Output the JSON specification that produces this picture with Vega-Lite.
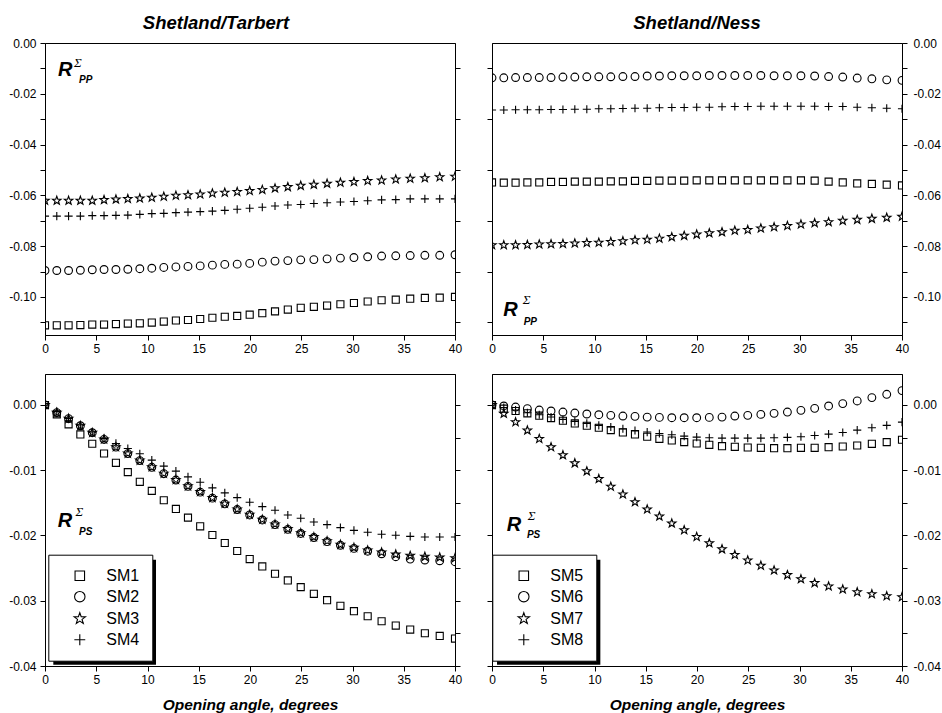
{
  "$schema": "https://vega.github.io/schema/vega-lite/v6.json",
  "background": "white",
  "padding": {"left": 8, "top": 13, "right": 2, "bottom": 4},
  "config": {
    "font": "Liberation Sans",
    "view": {"stroke": "black", "strokeWidth": 1},
    "locale": {"number": {"decimal": ".", "thousands": ",", "grouping": [3], "currency": ["$", ""], "minus": "-"}},
    "axis": {
      "grid": false, "domainColor": "black", "domainWidth": 1, "tickColor": "black", "tickWidth": 1,
      "tickSize": 5, "labelPadding": 3, "labelColor": "black", "labelFont": "Liberation Sans", "labelFontSize": 12,
      "labelFlush": false, "labelOverlap": false, "titleFont": "Liberation Sans", "titleFontSize": 15.5,
      "titleFontWeight": "bold", "titleFontStyle": "italic", "titleColor": "black", "titlePadding": 12
    },
    "axisLeft": {"labelPadding": 4},
    "axisRight": {"labelPadding": 6},
    "title": {"font": "Liberation Sans", "fontSize": 18.5, "fontWeight": "bold", "fontStyle": "italic", "color": "black", "anchor": "middle", "baseline": "alphabetic", "offset": 5},
    "legend": {
      "padding": 13, "strokeColor": "black", "fillColor": "white", "symbolSize": 90,
      "symbolStrokeWidth": 1.1, "symbolStrokeColor": "black", "symbolOffset": 10.5, "labelOffset": 18.5, "rowPadding": 5,
      "labelFont": "Liberation Sans", "labelFontSize": 16, "labelColor": "black"
    }
  },
  "datasets": {
    "tarbert_pp": [
      {"angle": 0, "SM1": -0.1112, "SM2": -0.0896, "SM3": -0.0621, "SM4": -0.0682},
      {"angle": 1.15, "SM1": -0.1112, "SM2": -0.0896, "SM3": -0.0621, "SM4": -0.0682},
      {"angle": 2.30, "SM1": -0.1112, "SM2": -0.0896, "SM3": -0.0621, "SM4": -0.0682},
      {"angle": 3.45, "SM1": -0.1111, "SM2": -0.0895, "SM3": -0.0621, "SM4": -0.0682},
      {"angle": 4.61, "SM1": -0.1109, "SM2": -0.0893, "SM3": -0.0621, "SM4": -0.0680},
      {"angle": 5.76, "SM1": -0.1109, "SM2": -0.0892, "SM3": -0.0618, "SM4": -0.0680},
      {"angle": 6.92, "SM1": -0.1107, "SM2": -0.0892, "SM3": -0.0616, "SM4": -0.0679},
      {"angle": 8.08, "SM1": -0.1105, "SM2": -0.0891, "SM3": -0.0614, "SM4": -0.0678},
      {"angle": 9.25, "SM1": -0.1104, "SM2": -0.0889, "SM3": -0.0612, "SM4": -0.0675},
      {"angle": 10.42, "SM1": -0.1101, "SM2": -0.0887, "SM3": -0.0609, "SM4": -0.0672},
      {"angle": 11.59, "SM1": -0.1097, "SM2": -0.0884, "SM3": -0.0605, "SM4": -0.0671},
      {"angle": 12.77, "SM1": -0.1093, "SM2": -0.0882, "SM3": -0.0601, "SM4": -0.0668},
      {"angle": 13.95, "SM1": -0.1091, "SM2": -0.0880, "SM3": -0.0599, "SM4": -0.0666},
      {"angle": 15.14, "SM1": -0.1087, "SM2": -0.0878, "SM3": -0.0596, "SM4": -0.0664},
      {"angle": 16.33, "SM1": -0.1082, "SM2": -0.0875, "SM3": -0.0592, "SM4": -0.0662},
      {"angle": 17.54, "SM1": -0.1078, "SM2": -0.0872, "SM3": -0.0589, "SM4": -0.0659},
      {"angle": 18.75, "SM1": -0.1075, "SM2": -0.0871, "SM3": -0.0586, "SM4": -0.0655},
      {"angle": 19.97, "SM1": -0.1070, "SM2": -0.0868, "SM3": -0.0582, "SM4": -0.0651},
      {"angle": 21.20, "SM1": -0.1064, "SM2": -0.0863, "SM3": -0.0578, "SM4": -0.0647},
      {"angle": 22.44, "SM1": -0.1057, "SM2": -0.0859, "SM3": -0.0572, "SM4": -0.0642},
      {"angle": 23.69, "SM1": -0.1050, "SM2": -0.0857, "SM3": -0.0567, "SM4": -0.0638},
      {"angle": 24.95, "SM1": -0.1043, "SM2": -0.0854, "SM3": -0.0562, "SM4": -0.0636},
      {"angle": 26.23, "SM1": -0.1039, "SM2": -0.0853, "SM3": -0.0558, "SM4": -0.0632},
      {"angle": 27.52, "SM1": -0.1034, "SM2": -0.0850, "SM3": -0.0554, "SM4": -0.0629},
      {"angle": 28.82, "SM1": -0.1029, "SM2": -0.0847, "SM3": -0.0550, "SM4": -0.0626},
      {"angle": 30.14, "SM1": -0.1024, "SM2": -0.0845, "SM3": -0.0547, "SM4": -0.0624},
      {"angle": 31.48, "SM1": -0.1018, "SM2": -0.0842, "SM3": -0.0543, "SM4": -0.0621},
      {"angle": 32.84, "SM1": -0.1013, "SM2": -0.0839, "SM3": -0.0541, "SM4": -0.0618},
      {"angle": 34.22, "SM1": -0.1011, "SM2": -0.0838, "SM3": -0.0537, "SM4": -0.0617},
      {"angle": 35.63, "SM1": -0.1007, "SM2": -0.0837, "SM3": -0.0534, "SM4": -0.0614},
      {"angle": 37.06, "SM1": -0.1004, "SM2": -0.0836, "SM3": -0.0532, "SM4": -0.0614},
      {"angle": 38.51, "SM1": -0.1003, "SM2": -0.0836, "SM3": -0.0528, "SM4": -0.0614},
      {"angle": 40, "SM1": -0.1000, "SM2": -0.0834, "SM3": -0.0526, "SM4": -0.0614}
    ],
    "ness_pp": [
      {"angle": 0, "SM5": -0.0549, "SM6": -0.0137, "SM7": -0.0796, "SM8": -0.0264},
      {"angle": 1.15, "SM5": -0.0550, "SM6": -0.0137, "SM7": -0.0796, "SM8": -0.0264},
      {"angle": 2.30, "SM5": -0.0550, "SM6": -0.0136, "SM7": -0.0796, "SM8": -0.0263},
      {"angle": 3.45, "SM5": -0.0549, "SM6": -0.0136, "SM7": -0.0795, "SM8": -0.0263},
      {"angle": 4.61, "SM5": -0.0549, "SM6": -0.0136, "SM7": -0.0793, "SM8": -0.0263},
      {"angle": 5.76, "SM5": -0.0547, "SM6": -0.0136, "SM7": -0.0792, "SM8": -0.0262},
      {"angle": 6.92, "SM5": -0.0547, "SM6": -0.0134, "SM7": -0.0791, "SM8": -0.0262},
      {"angle": 8.08, "SM5": -0.0546, "SM6": -0.0134, "SM7": -0.0789, "SM8": -0.0261},
      {"angle": 9.25, "SM5": -0.0546, "SM6": -0.0133, "SM7": -0.0787, "SM8": -0.0261},
      {"angle": 10.42, "SM5": -0.0546, "SM6": -0.0133, "SM7": -0.0786, "SM8": -0.0259},
      {"angle": 11.59, "SM5": -0.0545, "SM6": -0.0133, "SM7": -0.0783, "SM8": -0.0259},
      {"angle": 12.77, "SM5": -0.0545, "SM6": -0.0132, "SM7": -0.0780, "SM8": -0.0258},
      {"angle": 13.95, "SM5": -0.0543, "SM6": -0.0132, "SM7": -0.0776, "SM8": -0.0257},
      {"angle": 15.14, "SM5": -0.0543, "SM6": -0.0130, "SM7": -0.0774, "SM8": -0.0257},
      {"angle": 16.33, "SM5": -0.0542, "SM6": -0.0130, "SM7": -0.0770, "SM8": -0.0255},
      {"angle": 17.54, "SM5": -0.0542, "SM6": -0.0129, "SM7": -0.0764, "SM8": -0.0254},
      {"angle": 18.75, "SM5": -0.0542, "SM6": -0.0129, "SM7": -0.0759, "SM8": -0.0254},
      {"angle": 19.97, "SM5": -0.0541, "SM6": -0.0129, "SM7": -0.0754, "SM8": -0.0253},
      {"angle": 21.20, "SM5": -0.0541, "SM6": -0.0128, "SM7": -0.0749, "SM8": -0.0253},
      {"angle": 22.44, "SM5": -0.0541, "SM6": -0.0128, "SM7": -0.0745, "SM8": -0.0251},
      {"angle": 23.69, "SM5": -0.0541, "SM6": -0.0128, "SM7": -0.0739, "SM8": -0.0250},
      {"angle": 24.95, "SM5": -0.0541, "SM6": -0.0128, "SM7": -0.0736, "SM8": -0.0250},
      {"angle": 26.23, "SM5": -0.0541, "SM6": -0.0128, "SM7": -0.0730, "SM8": -0.0249},
      {"angle": 27.52, "SM5": -0.0541, "SM6": -0.0129, "SM7": -0.0725, "SM8": -0.0249},
      {"angle": 28.82, "SM5": -0.0541, "SM6": -0.0129, "SM7": -0.0720, "SM8": -0.0249},
      {"angle": 30.14, "SM5": -0.0541, "SM6": -0.0129, "SM7": -0.0714, "SM8": -0.0249},
      {"angle": 31.48, "SM5": -0.0542, "SM6": -0.0130, "SM7": -0.0709, "SM8": -0.0249},
      {"angle": 32.84, "SM5": -0.0546, "SM6": -0.0132, "SM7": -0.0705, "SM8": -0.0250},
      {"angle": 34.22, "SM5": -0.0549, "SM6": -0.0134, "SM7": -0.0700, "SM8": -0.0250},
      {"angle": 35.63, "SM5": -0.0553, "SM6": -0.0138, "SM7": -0.0696, "SM8": -0.0253},
      {"angle": 37.06, "SM5": -0.0555, "SM6": -0.0141, "SM7": -0.0692, "SM8": -0.0255},
      {"angle": 38.51, "SM5": -0.0558, "SM6": -0.0145, "SM7": -0.0688, "SM8": -0.0257},
      {"angle": 40, "SM5": -0.0561, "SM6": -0.0147, "SM7": -0.0684, "SM8": -0.0259}
    ],
    "tarbert_ps": [
      {"angle": 0, "SM1": 0, "SM2": 0, "SM3": 0, "SM4": 0},
      {"angle": 1.15, "SM1": -0.00143, "SM2": -0.00118, "SM3": -0.00118, "SM4": -0.00102},
      {"angle": 2.30, "SM1": -0.00297, "SM2": -0.0021, "SM3": -0.0021, "SM4": -0.00205},
      {"angle": 3.45, "SM1": -0.00451, "SM2": -0.00318, "SM3": -0.00318, "SM4": -0.00307},
      {"angle": 4.61, "SM1": -0.00594, "SM2": -0.00425, "SM3": -0.00425, "SM4": -0.00415},
      {"angle": 5.76, "SM1": -0.00743, "SM2": -0.00528, "SM3": -0.00528, "SM4": -0.00512},
      {"angle": 6.92, "SM1": -0.00886, "SM2": -0.00645, "SM3": -0.00645, "SM4": -0.00589},
      {"angle": 8.08, "SM1": -0.01029, "SM2": -0.00745, "SM3": -0.00743, "SM4": -0.00666},
      {"angle": 9.25, "SM1": -0.01178, "SM2": -0.00852, "SM3": -0.0085, "SM4": -0.00748},
      {"angle": 10.42, "SM1": -0.01316, "SM2": -0.00955, "SM3": -0.00953, "SM4": -0.00845},
      {"angle": 11.59, "SM1": -0.0146, "SM2": -0.01053, "SM3": -0.0105, "SM4": -0.00937},
      {"angle": 12.77, "SM1": -0.01593, "SM2": -0.0115, "SM3": -0.01147, "SM4": -0.01014},
      {"angle": 13.95, "SM1": -0.01726, "SM2": -0.01248, "SM3": -0.01245, "SM4": -0.01101},
      {"angle": 15.14, "SM1": -0.01859, "SM2": -0.01336, "SM3": -0.01332, "SM4": -0.01183},
      {"angle": 16.33, "SM1": -0.01992, "SM2": -0.01428, "SM3": -0.01424, "SM4": -0.0127},
      {"angle": 17.54, "SM1": -0.02115, "SM2": -0.01515, "SM3": -0.01511, "SM4": -0.01347},
      {"angle": 18.75, "SM1": -0.02238, "SM2": -0.01602, "SM3": -0.01598, "SM4": -0.01419},
      {"angle": 19.97, "SM1": -0.02361, "SM2": -0.01685, "SM3": -0.0168, "SM4": -0.0149},
      {"angle": 21.20, "SM1": -0.02474, "SM2": -0.01762, "SM3": -0.01757, "SM4": -0.01557},
      {"angle": 22.44, "SM1": -0.02586, "SM2": -0.01834, "SM3": -0.01828, "SM4": -0.01613},
      {"angle": 23.69, "SM1": -0.02689, "SM2": -0.01906, "SM3": -0.019, "SM4": -0.01685},
      {"angle": 24.95, "SM1": -0.02791, "SM2": -0.01969, "SM3": -0.01962, "SM4": -0.01736},
      {"angle": 26.23, "SM1": -0.02894, "SM2": -0.02031, "SM3": -0.02023, "SM4": -0.01793},
      {"angle": 27.52, "SM1": -0.02991, "SM2": -0.02094, "SM3": -0.02085, "SM4": -0.01834},
      {"angle": 28.82, "SM1": -0.03078, "SM2": -0.0215, "SM3": -0.02141, "SM4": -0.0188},
      {"angle": 30.14, "SM1": -0.0316, "SM2": -0.02198, "SM3": -0.02187, "SM4": -0.01921},
      {"angle": 31.48, "SM1": -0.03237, "SM2": -0.02241, "SM3": -0.02228, "SM4": -0.01951},
      {"angle": 32.84, "SM1": -0.03314, "SM2": -0.0228, "SM3": -0.02259, "SM4": -0.01982},
      {"angle": 34.22, "SM1": -0.0338, "SM2": -0.02325, "SM3": -0.0229, "SM4": -0.01997},
      {"angle": 35.63, "SM1": -0.03442, "SM2": -0.02361, "SM3": -0.0231, "SM4": -0.02013},
      {"angle": 37.06, "SM1": -0.03498, "SM2": -0.02376, "SM3": -0.02325, "SM4": -0.02023},
      {"angle": 38.51, "SM1": -0.03539, "SM2": -0.02387, "SM3": -0.02336, "SM4": -0.02023},
      {"angle": 40, "SM1": -0.0358, "SM2": -0.02402, "SM3": -0.02346, "SM4": -0.02023}
    ],
    "ness_ps": [
      {"angle": 0, "SM5": 0, "SM6": 0, "SM7": 0, "SM8": 0},
      {"angle": 1.15, "SM5": -0.00056, "SM6": -0.00015, "SM7": -0.00133, "SM8": -0.00041},
      {"angle": 2.30, "SM5": -0.00092, "SM6": -0.00031, "SM7": -0.00262, "SM8": -0.00077},
      {"angle": 3.45, "SM5": -0.00128, "SM6": -0.00056, "SM7": -0.0039, "SM8": -0.00118},
      {"angle": 4.61, "SM5": -0.00164, "SM6": -0.00077, "SM7": -0.00518, "SM8": -0.00149},
      {"angle": 5.76, "SM5": -0.002, "SM6": -0.00092, "SM7": -0.00646, "SM8": -0.00185},
      {"angle": 6.92, "SM5": -0.00241, "SM6": -0.00108, "SM7": -0.00769, "SM8": -0.00221},
      {"angle": 8.08, "SM5": -0.00282, "SM6": -0.00123, "SM7": -0.00892, "SM8": -0.00251},
      {"angle": 9.25, "SM5": -0.00318, "SM6": -0.00138, "SM7": -0.01015, "SM8": -0.00282},
      {"angle": 10.42, "SM5": -0.00349, "SM6": -0.00149, "SM7": -0.01133, "SM8": -0.00313},
      {"angle": 11.59, "SM5": -0.00385, "SM6": -0.00159, "SM7": -0.01251, "SM8": -0.00338},
      {"angle": 12.77, "SM5": -0.00421, "SM6": -0.00169, "SM7": -0.01369, "SM8": -0.00364},
      {"angle": 13.95, "SM5": -0.00451, "SM6": -0.00174, "SM7": -0.01487, "SM8": -0.0039},
      {"angle": 15.14, "SM5": -0.00487, "SM6": -0.00185, "SM7": -0.016, "SM8": -0.00415},
      {"angle": 16.33, "SM5": -0.00518, "SM6": -0.0019, "SM7": -0.01708, "SM8": -0.00436},
      {"angle": 17.54, "SM5": -0.00544, "SM6": -0.00195, "SM7": -0.01815, "SM8": -0.00456},
      {"angle": 18.75, "SM5": -0.00569, "SM6": -0.00195, "SM7": -0.01918, "SM8": -0.00477},
      {"angle": 19.97, "SM5": -0.0059, "SM6": -0.00195, "SM7": -0.0202, "SM8": -0.00492},
      {"angle": 21.20, "SM5": -0.0061, "SM6": -0.0019, "SM7": -0.02118, "SM8": -0.00503},
      {"angle": 22.44, "SM5": -0.00631, "SM6": -0.00185, "SM7": -0.0221, "SM8": -0.00508},
      {"angle": 23.69, "SM5": -0.00641, "SM6": -0.00169, "SM7": -0.02297, "SM8": -0.00508},
      {"angle": 24.95, "SM5": -0.00651, "SM6": -0.00159, "SM7": -0.0238, "SM8": -0.00508},
      {"angle": 26.23, "SM5": -0.00656, "SM6": -0.00144, "SM7": -0.02462, "SM8": -0.00508},
      {"angle": 27.52, "SM5": -0.00662, "SM6": -0.00128, "SM7": -0.02533, "SM8": -0.00503},
      {"angle": 28.82, "SM5": -0.00662, "SM6": -0.00108, "SM7": -0.02605, "SM8": -0.00497},
      {"angle": 30.14, "SM5": -0.00656, "SM6": -0.00082, "SM7": -0.02667, "SM8": -0.00487},
      {"angle": 31.48, "SM5": -0.00656, "SM6": -0.00051, "SM7": -0.02728, "SM8": -0.00467},
      {"angle": 32.84, "SM5": -0.00646, "SM6": -0.00015, "SM7": -0.02779, "SM8": -0.00446},
      {"angle": 34.22, "SM5": -0.00636, "SM6": 0.00021, "SM7": -0.02826, "SM8": -0.00421},
      {"angle": 35.63, "SM5": -0.00621, "SM6": 0.00062, "SM7": -0.02867, "SM8": -0.00385},
      {"angle": 37.06, "SM5": -0.00595, "SM6": 0.00113, "SM7": -0.02897, "SM8": -0.00349},
      {"angle": 38.51, "SM5": -0.00569, "SM6": 0.00164, "SM7": -0.02928, "SM8": -0.00313},
      {"angle": 40, "SM5": -0.00533, "SM6": 0.00221, "SM7": -0.02944, "SM8": -0.00262}
    ]
  },
  "columns": 2,
  "spacing": {"row": 39, "column": 37},
  "bounds": "flush",
  "resolve": {"scale": {"shape": "independent"}, "legend": {"shape": "independent"}},
  "concat": [
    {
      "width": 410, "height": 292,
      "title": {"text": "Shetland/Tarbert", "dx": -34},
      "layer": [
        {
          "layer": [
            {
              "data": {"name": "tarbert_pp"},
              "transform": [{"fold": ["SM1", "SM2", "SM3", "SM4"], "as": ["model", "R"]}],
              "mark": {"type": "point", "filled": false, "color": "black", "strokeWidth": 1.1, "size": 50, "opacity": 1, "clip": true},
              "encoding": {
                "x": {"field": "angle", "type": "quantitative", "scale": {"domain": [0, 40], "nice": false, "zero": false},
                      "axis": {"values": [0, 2.5, 5, 7.5, 10, 12.5, 15, 17.5, 20, 22.5, 25, 27.5, 30, 32.5, 35, 37.5, 40], "labelExpr": "datum.value % 5 == 0 ? datum.label : ''", "title": null}},
                "y": {"field": "R", "type": "quantitative", "scale": {"domain": [-0.115, 0], "nice": false, "zero": false},
                      "axis": {"orient": "right", "values": [0, -0.01, -0.02, -0.03, -0.04, -0.05, -0.06, -0.07, -0.08, -0.09, -0.1, -0.11], "labels": false, "title": null}},
                "shape": {"field": "model", "type": "nominal", "legend": null,
                          "scale": {"domain": ["SM1", "SM2", "SM3", "SM4"], "range": ["square", "M1.1,0A1.1,1.1,0,1,1,-1.1,0A1.1,1.1,0,1,1,1.1,0Z", "M0,-1.25L0.294,-0.405L1.189,-0.386L0.476,0.155L0.735,1.011L0,0.5L-0.735,1.011L-0.476,0.155L-1.189,-0.386L-0.294,-0.405Z", "M-1.15,0H1.15M0,-1.15V1.15"]}}
              }
            },
            {"data": {"values": [{}]}, "mark": {"type": "text", "text": "R", "font": "Liberation Sans", "fontSize": 20, "fontWeight": "bold", "fontStyle": "italic", "align": "left", "baseline": "alphabetic", "color": "black"},
             "encoding": {"x": {"datum": 1.27}, "y": {"datum": -0.0130}}},
            {"data": {"values": [{}]}, "mark": {"type": "text", "text": "Σ", "font": "Liberation Serif", "fontSize": 13, "fontStyle": "italic", "align": "left", "baseline": "alphabetic", "color": "black"},
             "encoding": {"x": {"datum": 2.83}, "y": {"datum": -0.0093}}},
            {"data": {"values": [{}]}, "mark": {"type": "text", "text": "PP", "font": "Liberation Sans", "fontSize": 10, "fontWeight": "bold", "fontStyle": "italic", "align": "left", "baseline": "alphabetic", "color": "black"},
             "encoding": {"x": {"datum": 3.32}, "y": {"datum": -0.0159}}}
          ]
        },
        {
          "data": {"name": "tarbert_pp"},
          "transform": [{"fold": ["SM1", "SM2", "SM3", "SM4"], "as": ["model", "R"]}],
          "mark": {"type": "point", "opacity": 0},
          "encoding": {"y": {"field": "R", "type": "quantitative", "axis": {"orient": "left", "values": [0, -0.01, -0.02, -0.03, -0.04, -0.05, -0.06, -0.07, -0.08, -0.09, -0.1, -0.11], "format": ".2f", "labelExpr": "round(abs(datum.value) * 100) % 2 == 0 ? datum.label : ''", "title": null}}}
        }
      ],
      "resolve": {"axis": {"y": "independent"}}
    },
    {
      "width": 410, "height": 292,
      "title": {"text": "Shetland/Ness"},
      "layer": [
        {
          "layer": [
            {
              "data": {"name": "ness_pp"},
              "transform": [{"fold": ["SM5", "SM6", "SM7", "SM8"], "as": ["model", "R"]}],
              "mark": {"type": "point", "filled": false, "color": "black", "strokeWidth": 1.1, "size": 50, "opacity": 1, "clip": true},
              "encoding": {
                "x": {"field": "angle", "type": "quantitative", "scale": {"domain": [0, 40], "nice": false, "zero": false},
                      "axis": {"values": [0, 2.5, 5, 7.5, 10, 12.5, 15, 17.5, 20, 22.5, 25, 27.5, 30, 32.5, 35, 37.5, 40], "labelExpr": "datum.value % 5 == 0 ? datum.label : ''", "title": null}},
                "y": {"field": "R", "type": "quantitative", "scale": {"domain": [-0.115, 0], "nice": false, "zero": false},
                      "axis": {"orient": "left", "values": [0, -0.01, -0.02, -0.03, -0.04, -0.05, -0.06, -0.07, -0.08, -0.09, -0.1, -0.11], "labels": false, "title": null}},
                "shape": {"field": "model", "type": "nominal", "legend": null,
                          "scale": {"domain": ["SM5", "SM6", "SM7", "SM8"], "range": ["square", "M1.1,0A1.1,1.1,0,1,1,-1.1,0A1.1,1.1,0,1,1,1.1,0Z", "M0,-1.25L0.294,-0.405L1.189,-0.386L0.476,0.155L0.735,1.011L0,0.5L-0.735,1.011L-0.476,0.155L-1.189,-0.386L-0.294,-0.405Z", "M-1.15,0H1.15M0,-1.15V1.15"]}}
              }
            },
            {"data": {"values": [{}]}, "mark": {"type": "text", "text": "R", "font": "Liberation Sans", "fontSize": 20, "fontWeight": "bold", "fontStyle": "italic", "align": "left", "baseline": "alphabetic", "color": "black"},
             "encoding": {"x": {"datum": 1.10}, "y": {"datum": -0.1075}}},
            {"data": {"values": [{}]}, "mark": {"type": "text", "text": "Σ", "font": "Liberation Serif", "fontSize": 13, "fontStyle": "italic", "align": "left", "baseline": "alphabetic", "color": "black"},
             "encoding": {"x": {"datum": 3.0}, "y": {"datum": -0.1028}}},
            {"data": {"values": [{}]}, "mark": {"type": "text", "text": "PP", "font": "Liberation Sans", "fontSize": 10, "fontWeight": "bold", "fontStyle": "italic", "align": "left", "baseline": "alphabetic", "color": "black"},
             "encoding": {"x": {"datum": 3.09}, "y": {"datum": -0.1111}}}
          ]
        },
        {
          "data": {"name": "ness_pp"},
          "transform": [{"fold": ["SM5", "SM6", "SM7", "SM8"], "as": ["model", "R"]}],
          "mark": {"type": "point", "opacity": 0},
          "encoding": {"y": {"field": "R", "type": "quantitative", "axis": {"orient": "right", "values": [0, -0.01, -0.02, -0.03, -0.04, -0.05, -0.06, -0.07, -0.08, -0.09, -0.1, -0.11], "format": ".2f", "labelExpr": "round(abs(datum.value) * 100) % 2 == 0 ? datum.label : ''", "title": null}}}
        }
      ],
      "resolve": {"axis": {"y": "independent"}}
    },
    {
      "width": 410, "height": 292,
      "layer": [
        {
          "layer": [
            {"data": {"values": [{}]}, "mark": {"type": "rect", "color": "black"},
             "encoding": {"x": {"datum": 0.81}, "x2": {"datum": 10.83}, "y": {"datum": -0.02371}, "y2": {"datum": -0.0398}}},
            {
              "data": {"name": "tarbert_ps"},
              "transform": [{"fold": ["SM1", "SM2", "SM3", "SM4"], "as": ["model", "R"]}],
              "mark": {"type": "point", "filled": false, "color": "black", "strokeWidth": 1.1, "size": 50, "opacity": 1, "clip": true},
              "encoding": {
                "x": {"field": "angle", "type": "quantitative", "scale": {"domain": [0, 40], "nice": false, "zero": false},
                      "axis": {"values": [0, 2.5, 5, 7.5, 10, 12.5, 15, 17.5, 20, 22.5, 25, 27.5, 30, 32.5, 35, 37.5, 40], "labelExpr": "datum.value % 5 == 0 ? datum.label : ''", "title": "Opening angle, degrees"}},
                "y": {"field": "R", "type": "quantitative", "scale": {"domain": [-0.04, 0.00475], "nice": false, "zero": false},
                      "axis": {"orient": "left", "values": [0, -0.005, -0.01, -0.015, -0.02, -0.025, -0.03, -0.035, -0.04], "format": ".2f", "labelExpr": "round(abs(datum.value) * 1000) % 10 == 0 ? datum.label : ''", "title": null}},
                "shape": {"field": "model", "type": "nominal",
                          "legend": {"orient": "none", "legendX": 3.3, "legendY": 180.7, "title": null, "zindex": 1},
                          "scale": {"domain": ["SM1", "SM2", "SM3", "SM4"], "range": ["square", "M1.1,0A1.1,1.1,0,1,1,-1.1,0A1.1,1.1,0,1,1,1.1,0Z", "M0,-1.25L0.294,-0.405L1.189,-0.386L0.476,0.155L0.735,1.011L0,0.5L-0.735,1.011L-0.476,0.155L-1.189,-0.386L-0.294,-0.405Z", "M-1.15,0H1.15M0,-1.15V1.15"]}}
              }
            },
            {"data": {"values": [{}]}, "mark": {"type": "text", "text": "R", "font": "Liberation Sans", "fontSize": 20, "fontWeight": "bold", "fontStyle": "italic", "align": "left", "baseline": "alphabetic", "color": "black"},
             "encoding": {"x": {"datum": 1.24}, "y": {"datum": -0.0187}}},
            {"data": {"values": [{}]}, "mark": {"type": "text", "text": "Σ", "font": "Liberation Serif", "fontSize": 13, "fontStyle": "italic", "align": "left", "baseline": "alphabetic", "color": "black"},
             "encoding": {"x": {"datum": 2.98}, "y": {"datum": -0.01697}}},
            {"data": {"values": [{}]}, "mark": {"type": "text", "text": "PS", "font": "Liberation Sans", "fontSize": 10, "fontWeight": "bold", "fontStyle": "italic", "align": "left", "baseline": "alphabetic", "color": "black"},
             "encoding": {"x": {"datum": 3.32}, "y": {"datum": -0.01988}}}
          ]
        },
        {
          "data": {"name": "tarbert_ps"},
          "transform": [{"fold": ["SM1", "SM2", "SM3", "SM4"], "as": ["model", "R"]}],
          "mark": {"type": "point", "opacity": 0},
          "encoding": {"y": {"field": "R", "type": "quantitative", "axis": {"orient": "right", "values": [0, -0.005, -0.01, -0.015, -0.02, -0.025, -0.03, -0.035, -0.04], "labels": false, "title": null}}}
        }
      ],
      "resolve": {"axis": {"y": "independent"}}
    },
    {
      "width": 410, "height": 292,
      "layer": [
        {
          "layer": [
            {"data": {"values": [{}]}, "mark": {"type": "rect", "color": "black"},
             "encoding": {"x": {"datum": 0.49}, "x2": {"datum": 10.57}, "y": {"datum": -0.02371}, "y2": {"datum": -0.0398}}},
            {
              "data": {"name": "ness_ps"},
              "transform": [{"fold": ["SM5", "SM6", "SM7", "SM8"], "as": ["model", "R"]}],
              "mark": {"type": "point", "filled": false, "color": "black", "strokeWidth": 1.1, "size": 50, "opacity": 1, "clip": true},
              "encoding": {
                "x": {"field": "angle", "type": "quantitative", "scale": {"domain": [0, 40], "nice": false, "zero": false},
                      "axis": {"values": [0, 2.5, 5, 7.5, 10, 12.5, 15, 17.5, 20, 22.5, 25, 27.5, 30, 32.5, 35, 37.5, 40], "labelExpr": "datum.value % 5 == 0 ? datum.label : ''", "title": "Opening angle, degrees"}},
                "y": {"field": "R", "type": "quantitative", "scale": {"domain": [-0.04, 0.00475], "nice": false, "zero": false},
                      "axis": {"orient": "left", "values": [0, -0.005, -0.01, -0.015, -0.02, -0.025, -0.03, -0.035, -0.04], "labels": false, "title": null}},
                "shape": {"field": "model", "type": "nominal",
                          "legend": {"orient": "none", "legendX": 0.3, "legendY": 180.7, "title": null, "zindex": 1},
                          "scale": {"domain": ["SM5", "SM6", "SM7", "SM8"], "range": ["square", "M1.1,0A1.1,1.1,0,1,1,-1.1,0A1.1,1.1,0,1,1,1.1,0Z", "M0,-1.25L0.294,-0.405L1.189,-0.386L0.476,0.155L0.735,1.011L0,0.5L-0.735,1.011L-0.476,0.155L-1.189,-0.386L-0.294,-0.405Z", "M-1.15,0H1.15M0,-1.15V1.15"]}}
              }
            },
            {"data": {"values": [{}]}, "mark": {"type": "text", "text": "R", "font": "Liberation Sans", "fontSize": 20, "fontWeight": "bold", "fontStyle": "italic", "align": "left", "baseline": "alphabetic", "color": "black"},
             "encoding": {"x": {"datum": 1.43}, "y": {"datum": -0.01926}}},
            {"data": {"values": [{}]}, "mark": {"type": "text", "text": "Σ", "font": "Liberation Serif", "fontSize": 13, "fontStyle": "italic", "align": "left", "baseline": "alphabetic", "color": "black"},
             "encoding": {"x": {"datum": 3.48}, "y": {"datum": -0.01758}}},
            {"data": {"values": [{}]}, "mark": {"type": "text", "text": "PS", "font": "Liberation Sans", "fontSize": 10, "fontWeight": "bold", "fontStyle": "italic", "align": "left", "baseline": "alphabetic", "color": "black"},
             "encoding": {"x": {"datum": 3.41}, "y": {"datum": -0.02038}}}
          ]
        },
        {
          "data": {"name": "ness_ps"},
          "transform": [{"fold": ["SM5", "SM6", "SM7", "SM8"], "as": ["model", "R"]}],
          "mark": {"type": "point", "opacity": 0},
          "encoding": {"y": {"field": "R", "type": "quantitative", "axis": {"orient": "right", "values": [0, -0.005, -0.01, -0.015, -0.02, -0.025, -0.03, -0.035, -0.04], "format": ".2f", "labelExpr": "round(abs(datum.value) * 1000) % 10 == 0 ? datum.label : ''", "title": null}}}
        }
      ],
      "resolve": {"axis": {"y": "independent"}}
    }
  ]
}
